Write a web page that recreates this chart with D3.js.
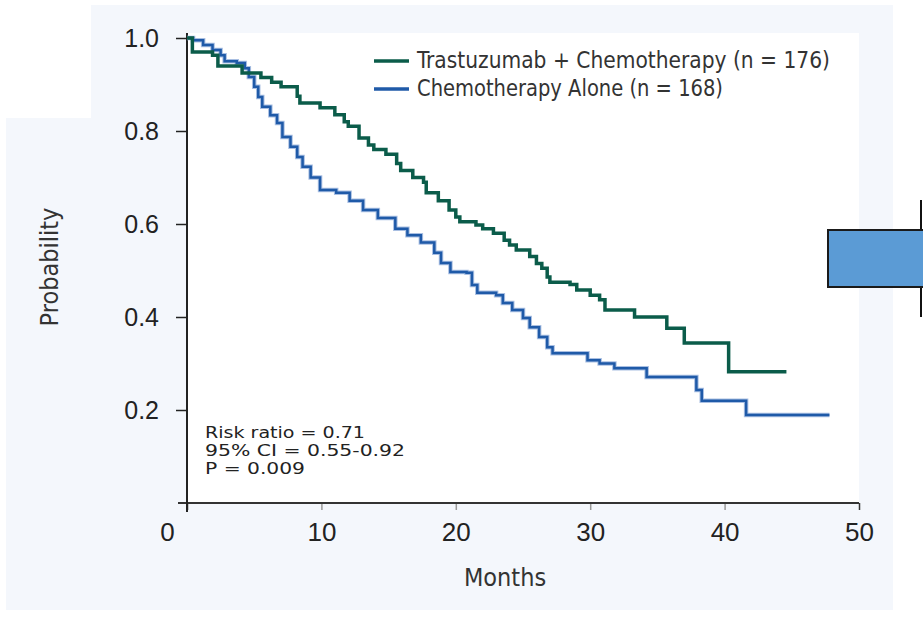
<!DOCTYPE html>
<html>
<head>
<meta charset="utf-8">
<script src="https://cdn.jsdelivr.net/npm/d3@7"></script>
<style>
    body { margin: 0; background: #fff; }
    svg { display: block; }
</style>
</head>
<body>
<svg id="chart" width="923" height="620"></svg>
<script>
// values
var monthTicks = [0, 10, 20, 30, 40, 50];
var probTicks = [0.2, 0.4, 0.6, 0.8, 1.0];
var seriesNames = ["Trastuzumab + Chemotherapy (n = 176)", "Chemotherapy Alone (n = 168)"];
var statLines = ["Risk ratio = 0.71", "95% CI = 0.55-0.92", "P = 0.009"];

// trastuzumab + chemo (step after, last point = end of follow-up)
var herTimes = [0, 0.4, 1.9, 2.3, 4.1, 5.5, 6.3, 7.0, 8.2, 8.4, 9.9, 11.0, 11.7, 12.0, 12.8, 13.5, 13.9,
    14.8, 15.6, 15.9, 16.8, 17.6, 17.8, 18.7, 19.5, 20.0, 20.3, 21.5, 22.0, 22.8, 23.6, 24.0, 24.5,
    25.5, 26.0, 26.4, 26.8, 27.0, 28.5, 29.0, 30.0, 30.7, 31.1, 33.3, 35.7, 37.0, 40.3, 44.6];
var herSurv = [1.0, 0.97, 0.963, 0.94, 0.925, 0.915, 0.905, 0.895, 0.875, 0.86, 0.85, 0.835, 0.82, 0.81, 0.785, 0.77, 0.76,
    0.75, 0.73, 0.715, 0.70, 0.69, 0.667, 0.65, 0.63, 0.615, 0.605, 0.598, 0.59, 0.58, 0.565, 0.555, 0.544,
    0.53, 0.515, 0.505, 0.486, 0.475, 0.47, 0.458, 0.447, 0.437, 0.415, 0.40, 0.376, 0.344, 0.282, 0.282];

// chemotherapy alone
var chemoTimes = [0, 0.45, 1.2, 1.9, 2.5, 2.8, 3.7, 4.3, 4.6, 5.0, 5.3, 5.6, 6.2, 6.7, 7.1, 7.7, 8.2, 8.6,
    9.2, 9.9, 11.1, 12.1, 13.1, 14.2, 15.5, 16.4, 17.4, 18.4, 18.9, 19.6, 20.8, 21.2, 21.6, 23.0, 23.5,
    24.2, 25.0, 25.5, 26.2, 26.8, 27.2, 29.8, 30.7, 31.8, 34.2, 37.9, 38.3, 41.6, 47.8];
var chemoSurv = [1.0, 0.995, 0.985, 0.974, 0.963, 0.95, 0.946, 0.935, 0.916, 0.895, 0.873, 0.852, 0.834, 0.817, 0.787, 0.766, 0.744, 0.723,
    0.70, 0.673, 0.667, 0.65, 0.63, 0.613, 0.59, 0.576, 0.56, 0.538, 0.516, 0.497, 0.495, 0.469, 0.452, 0.447, 0.43,
    0.415, 0.398, 0.378, 0.357, 0.335, 0.322, 0.307, 0.30, 0.29, 0.271, 0.243, 0.22, 0.189, 0.189];

var greenCol = "#0b5c4a", blueCol = "#1f5aa8";
var narrow = "'Liberation Sans Narrow', 'DejaVu Sans Condensed', 'Liberation Sans', sans-serif";
var plain = "'Liberation Sans', Arial, sans-serif";

var svg = d3.select("#chart");

// page backgrounds (slide-like panels)
svg.append("rect").attr("x", 91).attr("y", 5).attr("width", 802).attr("height", 605).attr("fill", "#f4f7fc");
svg.append("rect").attr("x", 6).attr("y", 118).attr("width", 887).attr("height", 492).attr("fill", "#f4f7fc");

var x = d3.scaleLinear().domain([0, 50]).range([187, 859]);
var y = d3.scaleLinear().domain([0, 1]).range([503, 38]);

// white plot area
svg.append("rect")
    .attr("x", x(0)).attr("y", y(1) - 5)
    .attr("width", x(50) - x(0)).attr("height", y(0) - y(1) + 5)
    .attr("fill", "#fff");

// y axis
var yAxis = d3.axisLeft(y).tickValues(probTicks).tickSize(11).tickPadding(17)
    .tickFormat(d3.format(".1f"));
var yG = svg.append("g").attr("transform", "translate(" + x(0) + ",0)").call(yAxis);
yG.select(".domain").remove();
yG.selectAll(".tick line").attr("stroke", "#222").attr("stroke-width", 1.5);
yG.selectAll(".tick text").attr("font-family", plain).attr("font-size", 25).attr("fill", "#222");

// x axis
var xAxis = d3.axisBottom(x).tickValues(monthTicks).tickSize(7).tickPadding(13);
var xG = svg.append("g").attr("transform", "translate(0," + y(0) + ")").call(xAxis);
xG.select(".domain").remove();
xG.selectAll(".tick line")
    .attr("stroke", function (d) { return d === 0 || d === 50 ? "#333" : "#999"; })
    .attr("stroke-width", 1.5);
xG.selectAll(".tick text").attr("font-family", plain).attr("font-size", 26).attr("fill", "#222")
    .attr("dx", function (d) { return d === 0 ? -20 : 0; });

// axis lines
svg.append("line").attr("x1", x(0) - 9).attr("x2", x(50)).attr("y1", y(0)).attr("y2", y(0))
    .attr("stroke", "#333").attr("stroke-width", 2);
svg.append("line").attr("x1", x(0)).attr("x2", x(0)).attr("y1", y(1) - 5).attr("y2", y(0) + 9)
    .attr("stroke", "#222").attr("stroke-width", 2);

// curves
var step = d3.line()
    .x(function (d) { return x(d[0]); })
    .y(function (d) { return y(d[1]); })
    .curve(d3.curveStepAfter);

var chemoData = d3.zip(chemoTimes, chemoSurv);
var herData = d3.zip(herTimes, herSurv);

svg.append("path").datum(chemoData).attr("d", step)
    .attr("fill", "none").attr("stroke", "#a9bfe2").attr("stroke-width", 4.5);
svg.append("path").datum(chemoData).attr("d", step)
    .attr("fill", "none").attr("stroke", blueCol).attr("stroke-width", 2.5);
svg.append("path").datum(herData).attr("d", step)
    .attr("fill", "none").attr("stroke", greenCol).attr("stroke-width", 3.5);

// legend
var legendCols = [greenCol, blueCol];
var legendLens = [413, 306];
var legend = svg.append("g");
seriesNames.forEach(function (name, i) {
    var ly = 61 + i * 28;
    legend.append("line").attr("x1", 374).attr("x2", 409).attr("y1", ly).attr("y2", ly)
        .attr("stroke", legendCols[i]).attr("stroke-width", 3.5);
    legend.append("text").attr("x", 417).attr("y", ly + 7)
        .attr("font-family", narrow).attr("font-size", 23).attr("fill", "#333")
        .attr("textLength", legendLens[i]).attr("lengthAdjust", "spacingAndGlyphs")
        .text(name);
});

// stats annotation
var statLens = [160, 200, 100];
statLines.forEach(function (s, i) {
    svg.append("text").attr("x", 205).attr("y", 438 + i * 18)
        .attr("font-family", narrow).attr("font-size", 16.5).attr("fill", "#222")
        .attr("textLength", statLens[i]).attr("lengthAdjust", "spacingAndGlyphs")
        .text(s);
});

// axis titles
svg.append("text").attr("transform", "translate(58,267) rotate(-90)")
    .attr("text-anchor", "middle").attr("font-family", narrow).attr("font-size", 25).attr("fill", "#333")
    .text("Probability");
svg.append("text").attr("x", 505).attr("y", 586)
    .attr("text-anchor", "middle").attr("font-family", narrow).attr("font-size", 25).attr("fill", "#333")
    .text("Months");

// slide decoration on the right edge
svg.append("line").attr("x1", 921).attr("x2", 921).attr("y1", 200).attr("y2", 317)
    .attr("stroke", "#111").attr("stroke-width", 2);
svg.append("rect").attr("x", 828).attr("y", 230).attr("width", 100).attr("height", 57)
    .attr("fill", "#5b9bd5").attr("stroke", "#1a1a1a").attr("stroke-width", 2);
</script>
</body>
</html>
